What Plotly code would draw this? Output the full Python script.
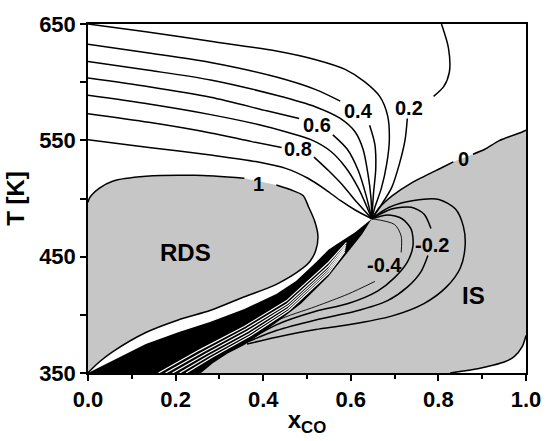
import plotly.graph_objects as go

# ---------------- data (x_CO, T[K]) ----------------
# RDS region boundary (contour = 1)
rds_x = [0, 0.004, 0.027, 0.056, 0.132, 0.244, 0.357, 0.430, 0.469, 0.491, 0.504, 0.518, 0.525, 0.520,
         0.507, 0.491, 0.430, 0.357, 0.280, 0.206, 0.132, 0.056, 0.027, 0.004, 0]
rds_T = [496.7, 500.8, 509.1, 514.9, 519.1, 519.9, 517.4, 511.6, 506.6, 502.5, 492.5, 480.1, 467.7, 455.3,
         446.1, 440.3, 426.2, 415.5, 403.9, 395.6, 384.8, 368.2, 359.9, 351.7, 350]
rds_line_x = [0, 0.004, 0.027, 0.056, 0.132, 0.244, 0.357, None, 0.430, 0.469, 0.491, 0.504, 0.518, 0.525,
              0.520, 0.507, 0.491, 0.430, 0.357, 0.280, 0.206, 0.132, 0.056, 0.027, 0.004, 0]
rds_line_T = [496.7, 500.8, 509.1, 514.9, 519.1, 519.9, 517.4, None, 511.6, 506.6, 502.5, 492.5, 480.1, 467.7,
              455.3, 446.1, 440.3, 426.2, 415.5, 403.9, 395.6, 384.8, 368.2, 359.9, 351.7, 350]

# contour 0 (upper boundary of IS region)
zero_x = [0.648, 0.666, 0.695, 0.738, 0.812, 0.834, None, 0.879, 0.906, 0.939, 0.991, 1.0]
zero_T = [482.6, 492.5, 502.5, 513.3, 527.3, 531.5, None, 538.1, 542.3, 549.7, 557.2, 558.8]
# lower-right white corner boundary
corner_x = [1.0, 0.991, 0.973, 0.953, 0.924, 0.895, 0.857, 0.827]
corner_T = [382.3, 372.4, 364.1, 359.9, 356.6, 354.1, 351.7, 350.0]
# lower edge of the dense (black) wedge, bottom -> converging point
wedge_low_x = [0.258, 0.285, 0.318, 0.357, 0.430, 0.487, 0.549, 0.587, 0.626, 0.648]
wedge_low_T = [350.0, 358.3, 366.6, 374.0, 393.1, 409.7, 432.9, 451.1, 469.3, 482.6]
# upper edge of the dense wedge, converging point -> origin
wedge_up_x = [0.648, 0.610, 0.565, 0.549, 0.520, 0.475, 0.430, 0.357, 0.280, 0.206, 0.132, 0.056, 0.016, 0]
wedge_up_T = [482.6, 471.0, 460.0, 456.0, 445.0, 429.0, 418.0, 405.0, 394.0, 385.0, 375.0, 361.0, 353.0, 350]
# thin white streaks inside the dense wedge
w1_x = [0.161, 0.255, 0.357, 0.453, 0.549, 0.590]
w1_T = [350, 369.9, 390.0, 412.0, 445.0, 462.0]
w2_x = [0.177, 0.262, 0.361, 0.455, 0.549, 0.589]
w2_T = [350, 368.0, 388.0, 409.5, 442.0, 460.0]
w3_x = [0.193, 0.270, 0.365, 0.456, 0.549, 0.588]
w3_T = [350, 366.5, 386.0, 407.5, 439.5, 458.0]
w4_x = [0.209, 0.277, 0.369, 0.457, 0.549, 0.587]
w4_T = [350, 365.0, 384.0, 405.5, 437.5, 456.0]
w5_x = [0.224, 0.283, 0.373, 0.458, 0.549, 0.586]
w5_T = [350, 363.5, 382.5, 403.5, 435.5, 454.0]

# positive contours 0.2 ... 0.9
c02_x = [0.807, 0.823, 0.825, 0.812, 0.789, None, 0.729, 0.724, 0.711, 0.693, 0.666, 0.648]
c02_T = [650, 629.3, 608.6, 596.1, 587.8, None, 568.8, 550.6, 529.8, 509.1, 492.5, 482.6]
c03_x = [0, 0.132, 0.280, 0.430, 0.520, 0.587, 0.632, 0.666, 0.684, 0.688, 0.682, 0.670, 0.655, 0.648]
c03_T = [650, 643.4, 635.1, 626.8, 619.3, 611.0, 600.3, 587.8, 571.3, 550.6, 529.8, 509.1, 492.5, 482.6]
c04_x = [0, 0.139, 0.280, 0.430, 0.520, 0.576, None, 0.643, 0.655, 0.657, 0.652, 0.648]
c04_T = [632.6, 625.1, 616.9, 604.4, 593.6, 583.7, None, 563.0, 546.4, 525.7, 505.0, 482.6]
c05_x = [0, 0.139, 0.280, 0.430, 0.520, 0.576, 0.610, 0.628, 0.639, 0.646, 0.648]
c05_T = [617.7, 610.2, 601.9, 588.7, 578.7, 568.8, 557.2, 542.3, 521.5, 500.8, 482.6]
c06_x = [0, 0.139, 0.280, 0.408, 0.482, None, 0.559, 0.592, 0.617, 0.635, 0.648]
c06_T = [603.6, 596.1, 587.0, 575.4, 568.8, None, 554.7, 542.3, 524.0, 502.5, 482.6]
c07_x = [0, 0.139, 0.280, 0.386, 0.453, 0.509, 0.554, 0.587, 0.617, 0.648]
c07_T = [588.7, 581.2, 572.1, 563.8, 557.2, 550.6, 540.6, 527.3, 509.1, 482.6]
c08_x = [0, 0.139, 0.280, 0.374, 0.442, None, 0.516, 0.549, 0.583, 0.614, 0.648]
c08_T = [572.9, 565.5, 556.4, 548.9, 543.9, None, 535.6, 524.0, 510.8, 496.7, 482.6]
c09_x = [0, 0.139, 0.280, 0.386, 0.453, 0.502, 0.543, 0.576, 0.610, 0.648]
c09_T = [550.6, 543.9, 537.3, 531.5, 525.7, 517.4, 507.5, 498.3, 490.1, 482.6]

# negative contours -0.1 ... -0.4
n1_x = [0.648, 0.688, 0.744, 0.801, 0.839, 0.857, 0.861, 0.850, 0.818, 0.767, 0.693, 0.594, 0.520, 0.430, 0.363]
n1_T = [482.6, 492.5, 498.3, 499.2, 490.9, 476.0, 459.4, 440.3, 423.8, 409.7, 398.9, 391.4, 387.3, 380.7, 374.9]
n2_x = [0.648, 0.693, 0.738, 0.767, 0.783, None, 0.776, 0.760, 0.729, 0.684, 0.610, 0.520, 0.430, 0.363]
n2_T = [482.6, 490.9, 492.5, 486.7, 474.3, None, 451.1, 437.0, 423.8, 412.2, 403.0, 395.6, 386.5, 376.5]
n3_x = [0.648, 0.684, 0.717, 0.738, 0.742, 0.729, 0.700, 0.661, 0.594, 0.520, 0.430, 0.363]
n3_T = [482.6, 485.9, 482.6, 473.5, 459.4, 445.3, 432.0, 420.4, 409.7, 403.0, 391.4, 377.4]
n4_x = [0.648, 0.700, 0.715, 0.715, None, 0.655, 0.594, 0.520, 0.430, 0.363]
n4_T = [482.6, 477.6, 467.7, 453.6, None, 428.7, 417.9, 407.2, 394.8, 378.2]

# labels
lab_text = ["0.2", "0.4", "0.6", "0.8", "1", "0", "-0.2", "-0.4"]
lab_x = [0.733, 0.617, 0.522, 0.480, 0.390, 0.857, 0.785, 0.677]
lab_T = [577.9, 575.4, 563.0, 542.3, 512.4, 534.0, 460.2, 442.8]
region_text = ["RDS", "IS"]
region_x = [0.222, 0.879]
region_T = [453.6, 416.3]

x_ticks = [0.0, 0.2, 0.4, 0.6, 0.8, 1.0]
x_ticklabels = ["0.0", "0.2", "0.4", "0.6", "0.8", "1.0"]
x_minor = [0.1, 0.3, 0.5, 0.7, 0.9]
y_ticks = [350, 450, 550, 650]
y_minor = [400, 500, 600]

GRAY = "#c6c6c6"
FONT = "Liberation Sans"

fig = go.Figure()

def fill(x, y, color, shape="linear"):
    fig.add_trace(go.Scatter(x=x, y=y, mode="lines", fill="toself", fillcolor=color,
                             line=dict(width=0, color=color, shape=shape), hoverinfo="skip"))

def line(x, y, w=1.5, color="black", shape="spline"):
    fig.add_trace(go.Scatter(x=x, y=y, mode="lines", line=dict(width=w, color=color, shape=shape,
                                                              smoothing=0.8),
                             connectgaps=False, hoverinfo="skip"))

# IS region fill: contour 0 -> right edge -> corner -> bottom -> wedge lower edge back up
is_x = [v for v in zero_x if v is not None] + corner_x + wedge_low_x
is_T = [v for v in zero_T if v is not None] + corner_T + wedge_low_T
fill(is_x, is_T, GRAY)
# RDS region fill
fill(rds_x, rds_T, GRAY)

# negative contours
line(n1_x, n1_T)
line(n2_x, n2_T)
line(n3_x, n3_T)
line(n4_x, n4_T, w=0.9)

# dense wedge with thin white streaks
fill(wedge_up_x + wedge_low_x, wedge_up_T + wedge_low_T, "black")
for wx, wT in [(w1_x, w1_T), (w2_x, w2_T), (w3_x, w3_T), (w4_x, w4_T), (w5_x, w5_T)]:
    line(wx, wT, w=1.2, color="white", shape="linear")

# positive contours
for cx, cT in [(c02_x, c02_T), (c03_x, c03_T), (c04_x, c04_T), (c05_x, c05_T),
               (c06_x, c06_T), (c07_x, c07_T), (c08_x, c08_T), (c09_x, c09_T)]:
    line(cx, cT)

line(rds_line_x, rds_line_T)
line(zero_x, zero_T)
line(corner_x, corner_T)

annotations = []
for t, x, y in zip(lab_text, lab_x, lab_T):
    annotations.append(dict(x=x, y=y, text=t, showarrow=False,
                            font=dict(family=FONT, size=20, color="black", weight="bold")))
for t, x, y in zip(region_text, region_x, region_T):
    annotations.append(dict(x=x, y=y, text=t, showarrow=False,
                            font=dict(family=FONT, size=24, color="black", weight="bold")))

axis_common = dict(showline=True, linecolor="black", linewidth=1.5, mirror=True, ticks="outside",
                   tickwidth=1.5, ticklen=6, tickcolor="black", showgrid=False, zeroline=False,
                   tickfont=dict(family=FONT, size=22, color="black", weight="bold"), layer="above traces")

fig.update_layout(
    width=553, height=441, margin=dict(l=88, r=19, t=20, b=59),
    paper_bgcolor="white", plot_bgcolor="white", showlegend=False,
    annotations=annotations,
    xaxis=dict(range=[0, 1], tickvals=x_ticks, ticktext=x_ticklabels,
               minor=dict(tickvals=x_minor, ticks="outside", ticklen=4, tickwidth=1.5, tickcolor="black"),
               title=dict(text="x<sub>CO</sub>", font=dict(family=FONT, size=24, color="black", weight="bold"),
                          standoff=0),
               **axis_common),
    yaxis=dict(range=[350, 650], tickvals=y_ticks,
               minor=dict(tickvals=y_minor, ticks="outside", ticklen=6, tickwidth=1.5, tickcolor="black"),
               title=dict(text="T [K]", font=dict(family=FONT, size=24, color="black", weight="bold"),
                          standoff=8),
               **axis_common),
)

fig.write_html("out.html")
